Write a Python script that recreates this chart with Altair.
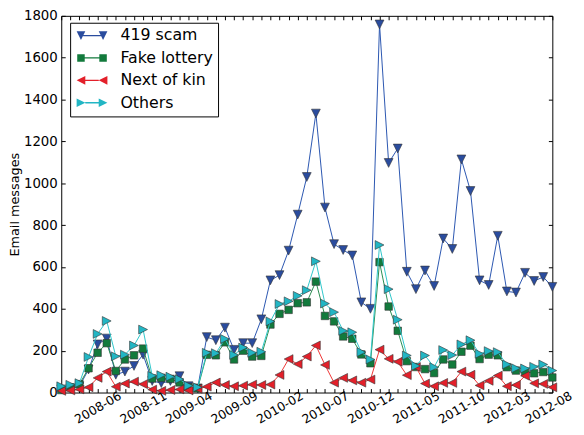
import json
import altair as alt
import pandas as pd

# ---- data -------------------------------------------------------------
all_months = [f"{y}-{m:02d}" for y in range(2008, 2013) for m in range(1, 13)]
months = all_months[all_months.index("2008-02"): all_months.index("2012-08") + 1]

series_names = ["419 scam", "Fake lottery", "Next of kin", "Others"]

scam_419 = [15, 20, 30, 110, 230, 258, 85, 100, 127, 181,
            55, 45, 55, 78, 30, 20, 265, 250, 310, 204,
            236, 236, 350, 536, 561, 678, 850, 1030, 1333, 884,
            709, 681, 655, 431, 400, 1759, 1097, 1166, 577, 494,
            583, 509, 736, 686, 1114, 963, 536, 514, 749, 483,
            478, 572, 533, 552, 505]

fake_lottery = [12, 25, 40, 116, 190, 236, 103, 158, 178, 210,
                67, 70, 65, 48, 25, 20, 180, 178, 240, 158,
                200, 172, 175, 325, 376, 395, 427, 431, 530, 366,
                340, 268, 257, 182, 140, 623, 411, 295, 150, 122,
                112, 93, 158, 134, 195, 224, 160, 181, 178, 121,
                105, 99, 92, 98, 72]

next_of_kin = [8, 10, 15, 25, 70, 100, 28, 43, 52, 40,
               14, 8, 12, 15, 10, 18, 28, 48, 36, 30,
               33, 38, 36, 38, 84, 160, 136, 172, 225, 132,
               47, 70, 58, 47, 62, 205, 161, 147, 83, 122,
               43, 30, 46, 46, 100, 85, 34, 56, 81, 30,
               36, 80, 44, 41, 25]

others = [30, 37, 45, 170, 280, 342, 173, 181, 225, 301,
          80, 83, 76, 64, 33, 25, 190, 188, 256, 180,
          215, 190, 195, 340, 423, 436, 462, 489, 627, 425,
          384, 295, 288, 193, 158, 705, 494, 348, 177, 127,
          177, 121, 203, 179, 230, 250, 185, 198, 193, 134,
          116, 115, 123, 134, 105]

series_values = [scam_419, fake_lottery, next_of_kin, others]

# ---- styles -----------------------------------------------------------
FONT = "DejaVu Sans"
marker_fill = ["#2a4c9e", "#127a3c", "#e3202a", "#22b6c4"]
line_color = ["#2a55b0", "#2a8c50", "#ee3535", "#2ec6ca"]
EDGE = "#333333"

# markers (custom paths in [-1, 1] like matplotlib's v, s, <, >)
marker_paths = [
    "M-1,-1L1,-1L0,1Z",
    "M-0.85,-0.85L0.85,-0.85L0.85,0.85L-0.85,0.85Z",
    "M-1,0L1,-1L1,1Z",
    "M1,0L-1,-1L-1,1Z",
]
marker_sizes = [80, 80, 80, 80]


def legend_path(kind, c0=0.0, c1=5.6, s=1.1, lh=0.17):
    def f(v):
        return f"{v:.3f}".rstrip("0").rstrip(".")
    parts = []
    if kind == "v":
        a, b = c0 + s * 0.5, c1 - s * 0.5
    elif kind == "s":
        s = 0.95
        a, b = c0 + s, c1 - s
    else:
        a, b = c0 + s, c1 - s
    parts.append(f"M{f(a)},{f(-lh)}L{f(b)},{f(-lh)}L{f(b)},{f(lh)}L{f(a)},{f(lh)}Z")
    for c in (c0, c1):
        if kind == "v":
            parts.append(f"M{f(c-s)},{f(-s)}L{f(c+s)},{f(-s)}L{f(c)},{f(s)}Z")
        elif kind == "s":
            parts.append(f"M{f(c-s)},{f(-s)}L{f(c+s)},{f(-s)}L{f(c+s)},{f(s)}L{f(c-s)},{f(s)}Z")
        elif kind == "<":
            parts.append(f"M{f(c-s)},0L{f(c+s)},{f(-s)}L{f(c+s)},{f(s)}Z")
        else:
            parts.append(f"M{f(c+s)},0L{f(c-s)},{f(-s)}L{f(c-s)},{f(s)}Z")
    return "".join(parts)


legend_paths = [legend_path(k) for k in ["v", "s", "<", ">"]]

rows = []
for name, vals in zip(series_names, series_values):
    for i, (m, v) in enumerate(zip(months, vals)):
        rows.append({"idx": i, "month": m, "series": name, "value": v})
df = pd.DataFrame(rows)

x_ticks = list(range(len(months)))
y_ticks = list(range(0, 1801, 200))
last_idx = len(months) - 1
label_expr = f"datum.value % 5 == 4 ? {json.dumps(months)}[datum.value] : ''"

x_scale = alt.Scale(domain=[0, last_idx], nice=False, zero=False)
y_scale = alt.Scale(domain=[0, 1800], nice=False)

axis_bottom = alt.Axis(
    orient="bottom", values=x_ticks, labelExpr=label_expr, offset=-4,
    tickSize=4, tickColor="black", tickWidth=1, domain=False, grid=False,
    labelAngle=330, labelAlign="center", labelBaseline="middle",
    labelPadding=15, labelFont=FONT, labelFontSize=12.5, labelColor="black",
    labelOffset={"condition": {"test": f"datum.value == {last_idx}", "value": -4}, "value": 0},
    labelOverlap=False, labelBound=False, labelFlush=False, title=None,
)
axis_left = alt.Axis(
    orient="left", values=y_ticks, format="d", offset=-4, tickSize=4,
    tickColor="black", tickWidth=1, domain=False, grid=False, labelPadding=4,
    labelFont=FONT, labelFontSize=13.5, labelColor="black", labelOverlap=False,
    labelBound=False, labelFlush=False, title="Email messages",
    titleFont=FONT, titleFontSize=13, titleFontWeight="normal",
    titleColor="black", titlePadding=2,
)
axis_top = alt.Axis(
    orient="top", values=x_ticks, offset=-4, tickSize=4, tickColor="black",
    tickWidth=1, labels=False, domain=False, grid=False, title=None,
)
axis_right = alt.Axis(
    orient="right", values=y_ticks, offset=-4, tickSize=4, tickColor="black",
    tickWidth=1, labels=False, domain=False, grid=False, title=None,
)

layers = []
for k, name in enumerate(series_names):
    base = alt.Chart(df).transform_filter(alt.datum.series == name)
    if k == 0:
        lx, ly, px, py = axis_bottom, axis_left, axis_top, axis_right
    else:
        lx = ly = px = py = None
    line = base.mark_line(color=line_color[k], strokeWidth=1.0).encode(
        x=alt.X("idx:Q", scale=x_scale, axis=lx),
        y=alt.Y("value:Q", scale=y_scale, axis=ly),
        order="idx:Q",
    )
    pts = base.mark_point(
        shape=marker_paths[k], filled=True, fill=marker_fill[k], stroke=EDGE,
        strokeWidth=0.6, size=marker_sizes[k], opacity=1,
    ).encode(
        x=alt.X("idx:Q", scale=x_scale, axis=px),
        y=alt.Y("value:Q", scale=y_scale, axis=py),
    )
    layers += [line, pts]

legend_layer = (
    alt.Chart(df)
    .transform_filter("false")
    .mark_point(filled=True, opacity=1, stroke=EDGE, strokeWidth=0.5, size=64)
    .encode(
        fill=alt.Fill(
            "series:N",
            scale=alt.Scale(domain=series_names, range=marker_fill),
            legend=alt.Legend(title=None),
        ),
        shape=alt.Shape(
            "series:N",
            scale=alt.Scale(domain=series_names, range=legend_paths),
            legend=alt.Legend(title=None),
        ),
    )
)
layers.append(legend_layer)

chart = (
    alt.layer(*layers)
    .resolve_axis(x="independent", y="independent")
    .properties(
        width=498, height=382,
        autosize=alt.AutoSizeParams(type="none"),
        padding={"left": 54, "top": 5, "right": 24, "bottom": 32},
    )
    .configure(font=FONT)
    .configure_view(stroke="black", strokeWidth=1)
    .configure_legend(
        orient="none", legendX=9, legendY=7, strokeColor="black",
        fillColor="white", padding=5, cornerRadius=0, strokeWidth=1,
        labelFont=FONT, labelFontSize=16, labelColor="black",
        labelOffset=32, symbolOffset=-2, symbolSize=64,
        symbolStrokeColor=EDGE, symbolStrokeWidth=0.5, rowPadding=6.7,
        labelLimit=0,
    )
)

chart.save("out.html", embed_options={"renderer": "svg", "actions": False})
